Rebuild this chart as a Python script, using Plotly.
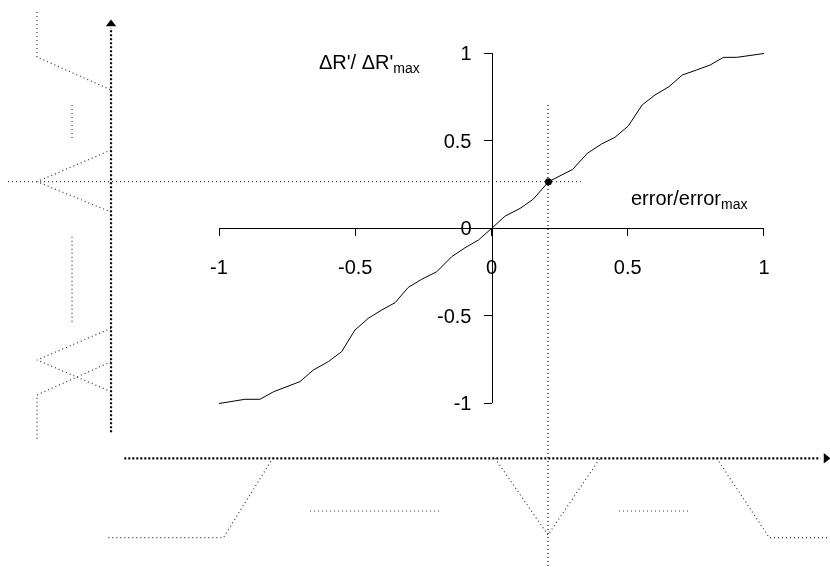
import plotly.graph_objects as go

# ---- main transfer curve (error/error_max -> dR'/dR'_max) ----
err = [-1, -0.905, -0.85, -0.80, -0.703, -0.654, -0.599, -0.55, -0.501, -0.452, -0.403,
       -0.354, -0.305, -0.256, -0.201, -0.146, -0.097, -0.048, 0, 0.05, 0.105, 0.153,
       0.209, 0.298, 0.352, 0.404, 0.453, 0.502, 0.553, 0.60, 0.651, 0.70, 0.753, 0.802,
       0.851, 0.90, 1.0]
dr = [-1, -0.976, -0.976, -0.933, -0.875, -0.809, -0.761, -0.704, -0.58, -0.513, -0.466,
      -0.424, -0.336, -0.29, -0.247, -0.161, -0.11, -0.066, 0, 0.071, 0.115, 0.167,
      0.267, 0.338, 0.43, 0.483, 0.521, 0.586, 0.706, 0.763, 0.81, 0.877, 0.906, 0.934,
      0.978, 0.978, 1.0]

op_x = [0.209]
op_y = [0.267]

tick_vals = [-1, -0.5, 0, 0.5, 1]
tick_text = ["-1", "-0.5", "0", "0.5", "1"]

# ---- crosshair through operating point ----
vline_x = [0.2073, 0.2073]
vline_y = [0.7057, -1.934]
hline_x = [-1.774, 0.328]
hline_y = [0.267, 0.267]

# ---- input (bottom) axis and membership functions ----
in_axis_x = [-1.3475, 1.2073]
in_axis_y = [-1.3131, -1.3131]
in_arrow_x = [1.2275]
in_arrow_y = [-1.3131]
in_mf = [
    ([-1.4062, -0.9842, -0.8029], [-1.7669, -1.7669, -1.3131]),
    ([-0.6661, -0.1828], [-1.6143, -1.6143]),
    ([0.0128, 0.2073, 0.3982], [-1.3131, -1.7514, -1.3131]),
    ([0.4679, 0.7284], [-1.6143, -1.6143]),
    ([0.8264, 1.0195, 1.2422], [-1.3131, -1.7669, -1.7669]),
]

# ---- output (left) axis and membership functions ----
out_axis_x = [-1.3963, -1.3963]
out_axis_y = [-1.1646, 1.1457]
out_arrow_x = [-1.3963]
out_arrow_y = [1.1686]
out_mf = [
    ([-1.6679, -1.6679, -1.3963], [1.2371, 0.98, 0.7914]),
    ([-1.5394, -1.5394], [0.7057, 0.5171]),
    ([-1.3963, -1.6679, -1.3963], [0.4486, 0.2674, 0.0943]),
    ([-1.5394, -1.5394], [-0.0469, -0.5417]),
    ([-1.3963, -1.6679, -1.3963], [-0.5703, -0.7514, -0.9326]),
    ([-1.3963, -1.6679, -1.6679], [-0.7611, -0.9514, -1.2086]),
]

# page-wide data window
XMIN, XMAX = -1.8037, 1.2422
YMIN, YMAX = -1.94, 1.3057

FONT = "Liberation Sans, Arial, Helvetica, sans-serif"
FS = 20
MF_COLOR = "#333333"
DOTS = "1px,3px"

fig = go.Figure()

for xs, ys in in_mf + out_mf:
    fig.add_trace(go.Scatter(x=xs, y=ys, mode="lines",
                             line=dict(color=MF_COLOR, width=1.2, dash=DOTS),
                             hoverinfo="skip"))

# crosshair
fig.add_trace(go.Scatter(x=vline_x, y=vline_y, mode="lines",
                         line=dict(color="black", width=1.2, dash=DOTS), hoverinfo="skip"))
fig.add_trace(go.Scatter(x=hline_x, y=hline_y, mode="lines",
                         line=dict(color="black", width=1.2, dash=DOTS), hoverinfo="skip"))

# thick dotted arrows
fig.add_trace(go.Scatter(x=in_axis_x, y=in_axis_y, mode="lines",
                         line=dict(color="black", width=2.2, dash="2px,2px"), hoverinfo="skip"))
fig.add_trace(go.Scatter(x=out_axis_x, y=out_axis_y, mode="lines",
                         line=dict(color="black", width=2.2, dash="2px,2px"), hoverinfo="skip"))
fig.add_trace(go.Scatter(x=in_arrow_x, y=in_arrow_y, mode="markers",
                         marker=dict(symbol="triangle-right", size=9, color="black"),
                         hoverinfo="skip", cliponaxis=False))
fig.add_trace(go.Scatter(x=out_arrow_x, y=out_arrow_y, mode="markers",
                         marker=dict(symbol="triangle-up", size=9, color="black"),
                         hoverinfo="skip", cliponaxis=False))

# main curve and operating point
fig.add_trace(go.Scatter(x=err, y=dr, mode="lines",
                         line=dict(color="black", width=1), hoverinfo="skip"))
fig.add_trace(go.Scatter(x=op_x, y=op_y, mode="markers",
                         marker=dict(color="black", size=7), hoverinfo="skip"))

# invisible trace to host the chart's own crossing axes
fig.add_trace(go.Scatter(x=[-1, 1], y=[-1, 1], mode="markers", opacity=0,
                         xaxis="x2", yaxis="y2", hoverinfo="skip"))

dx0 = (-1 - XMIN) / (XMAX - XMIN)
dx1 = (1 - XMIN) / (XMAX - XMIN)
dy0 = (-1 - YMIN) / (YMAX - YMIN)
dy1 = (1 - YMIN) / (YMAX - YMIN)
px_zero = (0 - XMIN) / (XMAX - XMIN)
py_zero = (0 - YMIN) / (YMAX - YMIN)

fig.update_layout(
    width=830, height=568,
    margin=dict(l=0, r=0, t=0, b=0, pad=0, autoexpand=False),
    paper_bgcolor="white", plot_bgcolor="rgba(0,0,0,0)",
    showlegend=False,
    font=dict(family=FONT, size=FS, color="black"),
    xaxis=dict(domain=[0, 1], range=[XMIN, XMAX], visible=False, fixedrange=True),
    yaxis=dict(domain=[0, 1], range=[YMIN, YMAX], visible=False, fixedrange=True),
    xaxis2=dict(domain=[dx0, dx1], range=[-1, 1], anchor="free", position=py_zero,
                showline=True, linecolor="black", linewidth=1,
                ticks="outside", ticklen=7, tickcolor="black", tickwidth=1,
                tickvals=tick_vals, ticktext=tick_text, ticklabelstandoff=14,
                showgrid=False, zeroline=False, fixedrange=True, automargin=False,
                tickfont=dict(family=FONT, size=FS, color="black")),
    yaxis2=dict(domain=[dy0, dy1], range=[-1, 1], anchor="free", position=px_zero,
                showline=True, linecolor="black", linewidth=1,
                ticks="outside", ticklen=8, tickcolor="black", tickwidth=1,
                tickvals=tick_vals, ticktext=tick_text, ticklabelstandoff=8,
                showgrid=False, zeroline=False, fixedrange=True, automargin=False,
                tickfont=dict(family=FONT, size=FS, color="black")),
    annotations=[
        dict(x=-0.4495, y=0.9457, xref="x", yref="y", showarrow=False,
             text="ΔR'/ ΔR'<sub>max</sub>", xanchor="center", yanchor="middle",
             font=dict(family=FONT, size=FS, color="black")),
        dict(x=0.7248, y=0.1629, xref="x", yref="y", showarrow=False,
             text="error/error<sub>max</sub>", xanchor="center", yanchor="middle",
             font=dict(family=FONT, size=FS, color="black")),
    ],
)

fig.write_html("out.html")
